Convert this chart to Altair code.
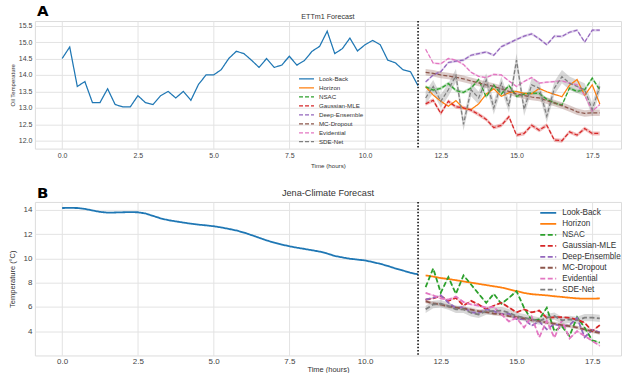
import altair as alt
import pandas as pd

SERIES = ["Look-Back", "Horizon", "NSAC", "Gaussian-MLE", "Deep-Ensemble",
          "MC-Dropout", "Evidential", "SDE-Net"]
COLORS = ["#1f77b4", "#ff7f0e", "#2ca02c", "#d62728", "#9467bd",
          "#8c564b", "#e377c2", "#7f7f7f"]

time_lookback = [0.0, 0.25, 0.5, 0.75, 1.0, 1.25, 1.5, 1.75, 2.0, 2.25, 2.5, 2.75,
                 3.0, 3.25, 3.5, 3.75, 4.0, 4.25, 4.5, 4.75, 5.0, 5.25, 5.5, 5.75,
                 6.0, 6.25, 6.5, 6.75, 7.0, 7.25, 7.5, 7.75, 8.0, 8.25, 8.5, 8.75,
                 9.0, 9.25, 9.5, 9.75, 10.0, 10.25, 10.5, 10.75, 11.0, 11.25, 11.5, 11.75]
time_horizon = [12.0, 12.25, 12.5, 12.75, 13.0, 13.25, 13.5, 13.75, 14.0, 14.25, 14.5, 14.75,
                15.0, 15.25, 15.5, 15.75, 16.0, 16.25, 16.5, 16.75, 17.0, 17.25, 17.5, 17.75]
split_time = 11.75
x_ticks = [0.0, 2.5, 5.0, 7.5, 10.0, 12.5, 15.0, 17.5]

# ---- Panel A: ETTm1 ----
a_lookback = [14.5, 14.85, 13.65, 13.8, 13.16, 13.16, 13.58, 13.1, 13.03, 13.03, 13.37, 13.16,
              13.1, 13.37, 13.5, 13.3, 13.5, 13.23, 13.71, 14.0, 14.0, 14.16, 14.5, 14.72,
              14.65, 14.45, 14.23, 14.5, 14.23, 14.3, 14.57, 14.3, 14.44, 14.72, 14.87, 15.33,
              14.65, 14.8, 15.12, 14.73, 14.92, 15.05, 14.92, 14.45, 14.37, 14.16, 14.1, 13.67]
a_horizon = [13.64, 13.39, 13.2, 13.05, 13.22, 12.98, 12.95, 13.12, 13.42, 13.58, 13.35, 13.46,
             13.5, 13.44, 13.43, 13.59, 13.49, 13.41, 13.34, 13.69, 13.86, 13.38, 13.7, 13.12]
a_nsac = [13.64, 13.54, 13.59, 13.74, 13.53, 13.47, 13.6, 13.86, 13.33, 13.69, 13.42, 13.68,
          13.35, 13.42, 13.45, 13.44, 13.26, 13.15, 13.08, 13.6, 13.5, 13.55, 13.9, 13.55]
a_gauss = [13.12, 13.23, 12.83, 13.2, 13.03, 13.0, 12.93, 12.8, 12.65, 12.4, 12.47, 12.73,
           12.17, 12.22, 12.47, 12.32, 12.47, 12.02, 12.0, 12.27, 12.17, 12.37, 12.22, 12.22]
a_deep = [13.79, 14.0, 14.1, 14.38, 14.42, 14.45, 14.6, 14.65, 14.7, 14.6, 14.86, 14.97,
          15.08, 15.18, 15.25, 15.1, 14.92, 15.18, 15.17, 15.3, 15.36, 15.0, 15.36, 15.36]
a_mc = [14.08, 14.05, 14.0, 13.97, 13.93, 13.88, 13.82, 13.76, 13.7, 13.65, 13.58, 13.5,
        13.42, 13.37, 13.33, 13.3, 13.22, 13.15, 13.07, 12.98, 12.88, 12.83, 12.85, 12.85]
a_evid = [14.78, 14.36, 14.34, 14.5, 14.45, 14.32, 14.08, 13.96, 13.92, 14.02, 14.0, 13.82,
          13.65, 13.8, 13.92, 13.75, 13.78, 13.8, 13.82, 13.75, 13.7, 13.38, 12.9, 13.1]
a_sde = [13.3, 13.65, 13.2, 13.55, 13.98, 12.5, 13.55, 13.3, 13.85, 13.0, 13.75, 13.05,
         14.45, 12.95, 13.7, 13.6, 12.75, 13.6, 13.95, 13.75, 13.65, 13.55, 12.95, 13.65]
a_band = {"NSAC": 0.05, "Gaussian-MLE": 0.06, "Deep-Ensemble": 0.04,
          "MC-Dropout": 0.1, "Evidential": 0.03, "SDE-Net": 0.2}

# ---- Panel B: Jena-Climate ----
b_lookback = [14.15, 14.16, 14.15, 14.08, 13.95, 13.83, 13.77, 13.78, 13.8, 13.81, 13.8, 13.7,
              13.5, 13.3, 13.15, 13.05, 12.95, 12.86, 12.78, 12.72, 12.65, 12.55, 12.43, 12.3,
              12.13, 11.92, 11.7, 11.48, 11.3, 11.14, 11.0, 10.88, 10.78, 10.67, 10.56, 10.4,
              10.2, 10.08, 9.97, 9.9, 9.83, 9.7, 9.55, 9.38, 9.17, 9.0, 8.81, 8.68]
b_horizon = [8.6, 8.5, 8.38, 8.3, 8.2, 8.1, 8.0, 7.9, 7.8, 7.7, 7.6, 7.45,
             7.3, 7.15, 7.05, 7.0, 6.95, 6.88, 6.82, 6.76, 6.7, 6.68, 6.68, 6.7]
b_nsac = [7.63, 9.17, 7.17, 8.46, 7.08, 8.6, 7.85, 7.08, 6.34, 7.08, 6.26, 6.75,
          7.3, 5.93, 4.89, 4.97, 5.93, 4.0, 4.4, 3.6, 5.16, 4.29, 3.24, 3.05]
b_gauss = [6.6, 6.7, 6.9, 6.5, 6.75, 6.1, 6.5, 6.2, 5.8, 6.1, 6.35, 5.95,
           5.55, 5.8, 5.55, 5.7, 5.1, 5.15, 5.15, 5.1, 4.95, 4.7, 4.0, 4.5]
b_deep = [6.6, 6.75, 6.95, 6.35, 5.9, 6.0, 5.55, 5.5, 5.8, 5.65, 5.4, 5.45,
          5.0, 5.0, 4.45, 4.8, 4.15, 4.6, 4.4, 4.5, 5.1, 3.5, 4.1, 3.9]
b_mc = [6.45, 6.3, 6.2, 6.05, 5.95, 5.85, 5.78, 5.65, 5.58, 5.45, 5.38, 5.25,
        5.15, 5.05, 4.92, 4.85, 4.7, 4.62, 4.5, 4.42, 4.3, 4.15, 4.0, 3.85]
b_evid = [7.15, 6.95, 6.7, 6.6, 6.85, 6.4, 6.2, 6.1, 5.95, 6.0, 5.4, 4.8,
          5.1, 4.3, 5.2, 3.5, 4.85, 3.45, 4.9, 3.4, 4.0, 3.6, 3.2, 2.8]
b_sde = [5.8, 6.2, 6.26, 6.07, 5.8, 5.8, 5.52, 5.38, 5.66, 5.66, 5.7, 5.52,
         5.25, 5.11, 4.97, 4.84, 5.11, 5.25, 4.9, 4.97, 4.9, 5.11, 5.11, 5.05]
b_band = {"NSAC": 0.05, "Gaussian-MLE": 0.05, "Deep-Ensemble": 0.06,
          "MC-Dropout": 0.15, "Evidential": 0.08, "SDE-Net": 0.3}

FONT = "Liberation Sans"


def build(look, fc, band):
    rows = []
    for t, v in zip(time_lookback, look):
        rows.append({"t": t, "v": v, "s": "Look-Back", "lo": v, "hi": v})
    for name, vals in fc.items():
        w = band.get(name, 0.0)
        for t, v in zip(time_horizon, vals):
            rows.append({"t": t, "v": v, "s": name, "lo": v - w, "hi": v + w})
    return pd.DataFrame(rows)


def panel(df, band, ydom, yvals, yfmt, ytitle, title, letter, w, h, st):
    xs = alt.Scale(domain=[-0.9, 18.45], nice=False, zero=False)
    ys = alt.Scale(domain=ydom, nice=False, zero=False)
    xaxis = alt.Axis(values=x_ticks, format=".1f", title="Time (hours)",
                     labelFontSize=st["fs_tick"], titleFontSize=st["fs_xt"],
                     labelFont=FONT, titleFont=FONT, titleFontWeight="normal",
                     tickSize=0, labelPadding=st["xlab_pad"],
                     titlePadding=st["xtit_pad"], domain=False,
                     gridColor="#e3e3e3", labelColor="#444", titleColor="#333")
    yaxis = alt.Axis(values=yvals, format=yfmt, title=ytitle,
                     labelFontSize=st["fs_tick"], titleFontSize=st["fs_yt"],
                     labelFont=FONT, titleFont=FONT, titleFontWeight="normal",
                     tickSize=0, labelPadding=3, titlePadding=3, domain=False,
                     minExtent=st["yext"], maxExtent=st["yext"],
                     gridColor="#e3e3e3", labelColor="#444", titleColor="#333")
    dashes = [[1, 0], [1, 0]] + [st["dash"]] * 6
    legend = alt.Legend(title=None, orient="none", legendX=st["leg_x"],
                        legendY=st["leg_y"], symbolType="stroke",
                        symbolSize=st["sym"], symbolStrokeWidth=st["lw"],
                        labelFontSize=st["fs_leg"], labelFont=FONT, labelColor="#333",
                        rowPadding=0, clipHeight=st["clip"], padding=0,
                        labelOffset=st["leg_off"])

    bands = alt.Chart(df[df["s"].isin(list(band.keys()))]).mark_area(
        opacity=0.3).encode(
        x=alt.X("t:Q", scale=xs, axis=xaxis),
        y=alt.Y("lo:Q", scale=ys, axis=yaxis),
        y2="hi:Q",
        fill=alt.Fill("s:N", scale=alt.Scale(domain=SERIES, range=COLORS), legend=None),
        detail="s:N",
    )
    lines = alt.Chart(df).mark_line(strokeWidth=st["lw"]).encode(
        x=alt.X("t:Q", scale=xs, axis=xaxis),
        y=alt.Y("v:Q", scale=ys, axis=yaxis),
        color=alt.Color("s:N", scale=alt.Scale(domain=SERIES, range=COLORS),
                        legend=legend, sort=SERIES),
        strokeDash=alt.StrokeDash("s:N", scale=alt.Scale(domain=SERIES, range=dashes),
                                  legend=legend, sort=SERIES),
        detail="s:N",
    )
    rule = alt.Chart(pd.DataFrame({"t": [split_time]})).mark_rule(
        color="black", strokeWidth=1.5, strokeDash=[1.5, 1.8]).encode(x="t:Q")
    lab = alt.Chart(pd.DataFrame({"k": [letter]})).mark_text(
        align="left", baseline="alphabetic", fontSize=15, fontWeight="bold",
        font="DejaVu Sans", color="black").encode(
        text="k:N", x=alt.value(2), y=alt.value(st["letter_y"]))
    ttl = alt.Chart(pd.DataFrame({"k": [title]})).mark_text(
        align="center", baseline="alphabetic", fontSize=st["fs_main"], font=FONT,
        color="#333").encode(
        text="k:N", x=alt.value(w / 2), y=alt.value(st["title_y"]))
    return alt.layer(bands, lines, rule, lab, ttl).properties(
        width=w, height=h,
    ).resolve_scale(fill="independent")


dfA = build(a_lookback, {"Horizon": a_horizon, "NSAC": a_nsac, "Gaussian-MLE": a_gauss,
                         "Deep-Ensemble": a_deep, "MC-Dropout": a_mc,
                         "Evidential": a_evid, "SDE-Net": a_sde}, a_band)
dfB = build(b_lookback, {"Horizon": b_horizon, "NSAC": b_nsac, "Gaussian-MLE": b_gauss,
                         "Deep-Ensemble": b_deep, "MC-Dropout": b_mc,
                         "Evidential": b_evid, "SDE-Net": b_sde}, b_band)

styleA = dict(fs_tick=7, fs_xt=6.2, fs_yt=6, fs_main=7.2, fs_leg=6.2, lw=1.25,
              dash=[4, 2], leg_x=264, leg_y=54, sym=225, clip=8.2, leg_off=4,
              xlab_pad=3, xtit_pad=4.4, yext=16.5, letter_y=-5, title_y=-2)
styleB = dict(fs_tick=8, fs_xt=7.5, fs_yt=7.5, fs_main=9.2, fs_leg=8.2, lw=1.8,
              dash=[5, 2.5], leg_x=506, leg_y=5.6, sym=256, clip=10.8, leg_off=5,
              xlab_pad=2, xtit_pad=0, yext=15, letter_y=-4, title_y=-6)

pA = panel(dfA, a_band, [11.76, 15.64],
           [12.0, 12.5, 13.0, 13.5, 14.0, 14.5, 15.0, 15.5], ".1f", "Oil Temperature",
           "ETTm1 Forecast", "A", 588, 128, styleA)
pB = panel(dfB, b_band, [2.0, 14.65], [4, 6, 8, 10, 12, 14], "d", "Temperature (°C)",
           "Jena-Climate Forecast", "B", 588, 154, styleB)

chart = alt.vconcat(pA, pB, spacing=14.5).resolve_scale(
    x="independent", y="independent", color="independent", strokeDash="independent"
).resolve_legend(color="independent", strokeDash="independent").configure_view(
    stroke="#dcdcdc"
).properties(padding={"left": 8, "top": 2.5, "right": 1, "bottom": 0}, background="white")

chart.save("out.html", embed_options={"renderer": "svg", "actions": False})
